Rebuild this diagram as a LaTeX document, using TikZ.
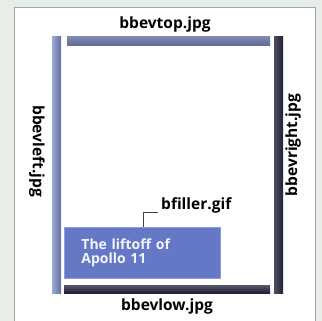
\documentclass[tikz,border=0pt]{standalone}
\usepackage{fontspec}
\setsansfont{Open Sans}
\usetikzlibrary{positioning,calc}
\definecolor{paper}{HTML}{E7EEE7}
\definecolor{frame}{HTML}{A3A8AA}
\definecolor{bevlight}{HTML}{7384BE}
\definecolor{bevmid}{HTML}{5F6998}
\definecolor{bevdark}{HTML}{1F2136}
\definecolor{fillblue}{HTML}{6478C6}
\definecolor{fillrim}{HTML}{8D9DDA}
\tikzset{tag/.style={font=\sffamily\bfseries\fontsize{15.5}{17}\selectfont,text=black,inner sep=0pt},
  bar/.style={draw=none},
  leader/.style={draw=black!75,line width=.9pt},
  filler/.style={fill=fillblue,draw=fillrim,line width=.8pt,anchor=north west,minimum width=156pt,minimum height=51pt,
    inner xsep=17pt,text width=122pt,align=left,text=white!92!fillblue,font=\sffamily\bfseries\fontsize{14}{14}\selectfont}}

\begin{document}
\begin{tikzpicture}[x=1pt,y=-1pt]
\useasboundingbox (0,0) rectangle (322,321);
\fill[paper] (0,0) rectangle (322,321);
\filldraw[fill=white,draw=frame,line width=.8pt] (14,7) rectangle (315,330);
% bevel strips
\shade[bar,left color=bevlight!70!white,right color=bevlight!85!black] (52,37) rectangle (61,293);
\shade[bar,top color=bevmid!80!white,bottom color=bevmid] (67,37) rectangle (270,46);
\shade[bar,left color=bevdark!80,right color=bevdark] (274,37) rectangle (283,293);
\shade[bar,top color=bevdark!75,bottom color=bevdark] (64,285) rectangle (270,293);
% filler and its label
\node[filler] (liftoff) at (64,227) {The liftoff of\\Apollo 11};
\node[tag,anchor=west] (fillername) at (161,205) {bfiller.gif};
\draw[leader] (liftoff.north -| 143,0) |- ([xshift=-3pt,yshift=1pt]fillername.south west);
% strip names
\node[tag] (topname) at (165,24) {bbevtop.jpg};
\node[tag] (lowname) at (167,306) {bbevlow.jpg};
\node[tag,rotate=-90] (leftname) at (37,151) {bbevleft.jpg};
\node[tag,rotate=90] (rightname) at (293,145) {bbevright.jpg};
\end{tikzpicture}
\end{document}
